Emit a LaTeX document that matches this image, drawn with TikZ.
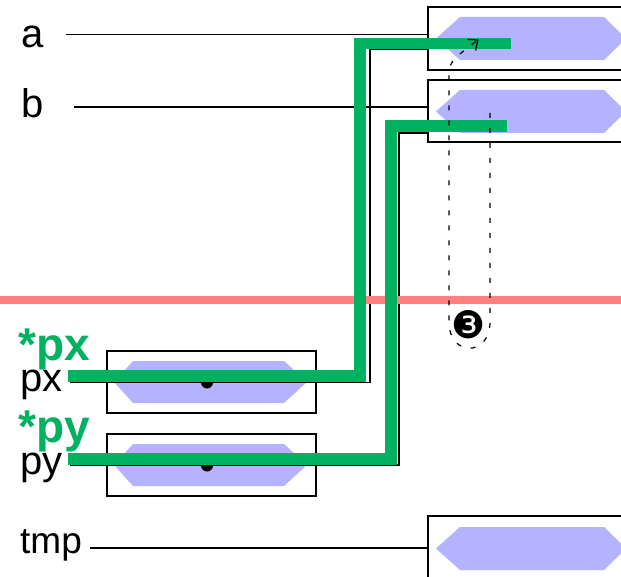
\documentclass[tikz,border=0pt]{standalone}
\usepackage{fontspec}
\setmainfont{Liberation Sans}
\newfontfamily\dingfont{DejaVu Sans}
\usetikzlibrary{arrows.meta}
\definecolor{hexblue}{HTML}{B3B3FF}
\definecolor{hlgreen}{HTML}{00B25F}
\definecolor{redline}{HTML}{FF8080}
\begin{document}
\begin{tikzpicture}[x=1pt,y=-1pt,
  cell/.style={draw=black, line width=1.4pt, fill=white, rectangle, inner sep=0pt, outer sep=0pt, anchor=north west},
  hexa/.style={fill=hexblue},
  wire/.style={draw=black, line width=1.3pt},
  hl/.style={draw=hlgreen, line width=11.7pt, line join=miter, line cap=butt},
  lbl/.style={inner sep=0pt, anchor=base west, font=\fontsize{40}{48}\selectfont},
  glbl/.style={inner sep=0pt, anchor=base west, text=hlgreen, font=\bfseries\fontsize{46}{54}\selectfont},
  loopline/.style={draw=black, line width=1.2pt, dash pattern=on 5pt off 10pt},
  dotmark/.style={circle, fill=black, inner sep=0pt, minimum size=12pt}
]
\useasboundingbox (0,0) rectangle (621,577);
\clip (0,0) rectangle (621,577);

% boxes
\node[cell, minimum width=212pt, minimum height=63pt] (boxa) at (428,7) {};
\node[cell, minimum width=212pt, minimum height=62pt] (boxb) at (428,80) {};
\node[cell, minimum width=212pt, minimum height=84pt] (boxt) at (428,516) {};
\node[cell, minimum width=209pt, minimum height=62pt] (boxpx) at (107,351) {};
\node[cell, minimum width=209pt, minimum height=62pt] (boxpy) at (107,434) {};

% hexagons
\fill[hexa] (436,38.5) -- (460,17) -- (604,17) -- (626,38.5) -- (604,60) -- (460,60) -- cycle;
\fill[hexa] (436,111.5) -- (460,90) -- (604,90) -- (626,111.5) -- (604,133) -- (460,133) -- cycle;
\fill[hexa] (436,548.5) -- (460,527) -- (604,527) -- (626,548.5) -- (604,570) -- (460,570) -- cycle;
\fill[hexa] (114,382) -- (133,361) -- (284,361) -- (307,382) -- (284,403) -- (133,403) -- cycle;
\fill[hexa] (114,465) -- (133,444) -- (284,444) -- (307,465) -- (284,486) -- (133,486) -- cycle;

% labels
\node[lbl] (la) at (21.5,48) {a};
\node[lbl] (lb) at (21,118) {b};
\node[lbl] (lpx) at (20.5,391) {px};
\node[lbl] (lpy) at (20.5,474) {py};
\node[lbl, font=\fontsize{37}{44}\selectfont] (lt) at (20,553) {tmp};

% label lines
\coordinate (sa) at (66,34.5);
\coordinate (sb) at (74,107);
\coordinate (st) at (90,548);
\draw[wire] (sa) -- (boxa.west |- sa);
\draw[wire] (sb) -- (boxb.west |- sb);
\draw[wire] (st) -- (boxt.west |- st);

% pointer lines
\coordinate (px0) at (70,382.5);
\coordinate (px1) at (370,382.5);
\coordinate (px2) at (370,49);
\coordinate (py0) at (70,465);
\coordinate (py1) at (399,465);
\coordinate (py2) at (399,133);
\draw[wire, line join=miter] (px0) -- (px1) -- (px2) -- (boxa.west |- px2);
\draw[wire, line join=miter] (py0) -- (py1) -- (py2) -- (boxb.west |- py2);

% dots
\node[dotmark] (dx) at (207,382.5) {};
\node[dotmark] (dy) at (207,465.5) {};

% red line
\coordinate (r0) at (0,300.5);
\coordinate (r1) at (621,300.5);
\draw[draw=redline, line width=8pt] (r0) -- (r1);

% green highlights
\coordinate (gx0) at (68,375.8);
\coordinate (gx1) at (359.7,375.8);
\coordinate (gx2) at (359.7,43.4);
\coordinate (gx3) at (510.7,43.4);
\coordinate (gy0) at (68,458.7);
\coordinate (gy1) at (390.8,458.7);
\coordinate (gy2) at (390.8,125.8);
\coordinate (gy3) at (506.7,125.8);
\draw[hl] (gx0) -- (gx1) -- (gx2) -- (gx3);
\draw[hl] (gy0) -- (gy1) -- (gy2) -- (gy3);

% dashed loop
\coordinate (d1) at (490,113);
\coordinate (d2) at (490,322);
\coordinate (d3) at (449,322);
\coordinate (d4) at (449,80);
\coordinate (d5) at (478.5,39.5);
\draw[loopline, -{Straight Barb[length=8pt,width=14pt,line width=1.2pt]}]
  (d1) -- (d2) .. controls (490,357) and (449,357) .. (d3) -- (d4) .. controls (449,62) .. (d5);
\node[inner sep=0pt, font=\dingfont\fontsize{38}{38}\selectfont] (three) at (469,325) {❸};

% green labels
\node[glbl] (gpx) at (18.5,360) {*px};
\node[glbl] (gpy) at (18.5,442) {*py};
\end{tikzpicture}
\end{document}
